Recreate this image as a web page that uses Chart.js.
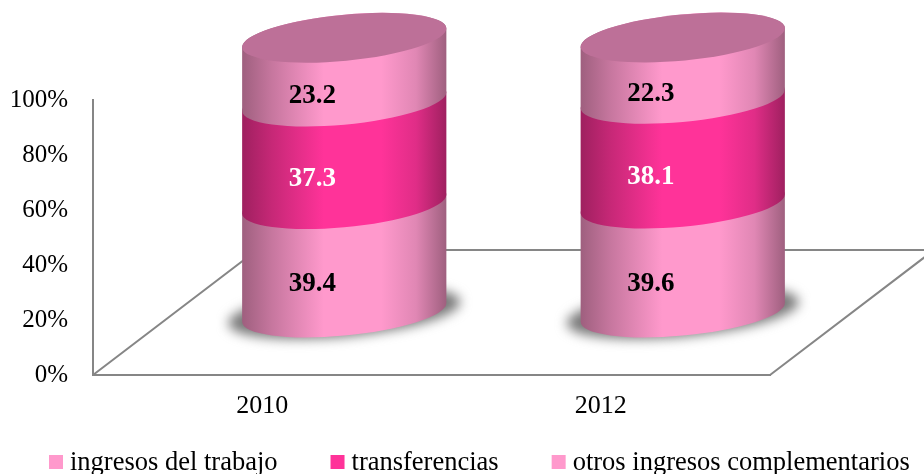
<!DOCTYPE html>
<html>
<head>
<meta charset="utf-8">
<script src="https://cdn.jsdelivr.net/npm/chart.js@4"></script>
<style>
html, body { margin: 0; padding: 0; width: 924px; height: 474px; overflow: hidden; background: #fff; }
canvas { display: block; }
</style>
</head>
<body>
<canvas id="chart" width="924" height="474"></canvas>
<script>
const years = ['2010', '2012']
const trabajo = [39.4, 39.6]
const transferencias = [37.3, 38.1]
const otros = [23.2, 22.3]
const seriesNames = ['ingresos del trabajo', 'transferencias', 'otros ingresos complementarios']
const seriesColors = ['#FF99CC', '#FF3399', '#FF99CC']
const labelColors = ['#000000', '#FFFFFF', '#000000']

const FONT = '"Liberation Serif", "Times New Roman", serif'
const LINE = '#868686'
// floor depth of the fake 3d box, cylinders stand half way in
const depthX = 164
const depthY = 125
const capB = 23
const tilt = -5.5 * Math.PI / 180

function shade(hex, k) {
    const n = parseInt(hex.slice(1), 16)
    const r = Math.round((n >> 16 & 255) * k)
    const g = Math.round((n >> 8 & 255) * k)
    const b = Math.round((n & 255) * k)
    return `rgb(${r},${g},${b})`
}

const cylinders = {
    id: 'cylinders',
    beforeDatasetsDraw(chart) {
        const ctx = chart.ctx
        const { left, right, bottom } = chart.chartArea
        ctx.save()
        ctx.strokeStyle = LINE
        ctx.lineWidth = 2
        ctx.beginPath()
        ctx.moveTo(left, bottom)
        ctx.lineTo(left + depthX, bottom - depthY)
        ctx.lineTo(right + depthX, bottom - depthY)
        ctx.lineTo(right, bottom)
        ctx.stroke()
        // base shadows
        ctx.filter = 'blur(6px)'
        ctx.fillStyle = '#787878'
        chart.getDatasetMeta(0).data.forEach(el => {
            ctx.beginPath()
            ctx.ellipse(el.x + depthX / 2, el.base - depthY / 2, el.width / 2 + 14, capB + 1, tilt, 0, Math.PI * 2)
            ctx.fill()
        })
        ctx.restore()
    },
    beforeDatasetDraw() {
        return false
    },
    afterDatasetsDraw(chart) {
        const ctx = chart.ctx
        const t0 = Math.atan2(capB * Math.sin(-tilt), chart.getDatasetMeta(0).data[0].width / 2 * Math.cos(tilt))
        ctx.save()
        chart.data.datasets.forEach((ds, i) => {
            chart.getDatasetMeta(i).data.forEach(el => {
                const cx = el.x + depthX / 2
                const a = el.width / 2
                const grad = ctx.createLinearGradient(cx - a, 0, cx + a, 0)
                grad.addColorStop(0, shade(ds.backgroundColor, 0.62))
                grad.addColorStop(0.15, shade(ds.backgroundColor, 0.78))
                grad.addColorStop(0.4, shade(ds.backgroundColor, 1))
                grad.addColorStop(0.68, shade(ds.backgroundColor, 1))
                grad.addColorStop(0.85, shade(ds.backgroundColor, 0.88))
                grad.addColorStop(1, shade(ds.backgroundColor, 0.62))
                ctx.fillStyle = grad
                ctx.beginPath()
                ctx.ellipse(cx, el.base - depthY / 2, a, capB, tilt, t0, t0 + Math.PI)
                ctx.ellipse(cx, el.y - depthY / 2, a, capB, tilt, t0 + Math.PI, t0 + Math.PI * 2)
                ctx.closePath()
                ctx.fill()
            })
        })
        // top caps
        const last = chart.data.datasets.length - 1
        chart.getDatasetMeta(last).data.forEach(el => {
            ctx.fillStyle = '#BD7098'
            ctx.beginPath()
            ctx.ellipse(el.x + depthX / 2, el.y - depthY / 2, el.width / 2, capB, tilt, 0, Math.PI * 2)
            ctx.fill()
        })
        // value labels
        ctx.font = 'bold 27px ' + FONT
        ctx.textAlign = 'center'
        ctx.textBaseline = 'middle'
        chart.data.datasets.forEach((ds, i) => {
            ctx.fillStyle = labelColors[i]
            chart.getDatasetMeta(i).data.forEach((el, j) => {
                const mid = (el.y + el.base) / 2 - depthY / 2 + capB + 3
                ctx.fillText(ds.data[j].toFixed(1), el.x + 50, mid)
            })
        })
        ctx.restore()
    },
    // chart.js keeps half a font size between box and text, the original is tighter
    afterDraw(chart) {
        const ctx = chart.ctx
        ctx.save()
        ctx.font = '26.5px ' + FONT
        ctx.textBaseline = 'alphabetic'
        ctx.textAlign = 'left'
        const box = 14, gap = 7, itemGap = 53
        const widths = seriesNames.map(s => ctx.measureText(s).width)
        let x = 49
        seriesNames.forEach((name, i) => {
            ctx.fillStyle = seriesColors[i]
            ctx.fillRect(x, 455, box, box)
            ctx.fillStyle = '#000'
            ctx.fillText(name, x + box + gap, 470)
            x += box + gap + widths[i] + itemGap
        })
        ctx.restore()
    }
}

new Chart(document.getElementById('chart'), {
    type: 'bar',
    data: {
        labels: years,
        datasets: [trabajo, transferencias, otros].map((values, i) => ({
            label: seriesNames[i],
            data: values,
            backgroundColor: seriesColors[i],
            barPercentage: 0.606,
            categoryPercentage: 1
        }))
    },
    options: {
        responsive: false,
        animation: false,
        layout: { padding: { top: 100, right: 154 } },
        plugins: {
            tooltip: { enabled: false },
            legend: { display: false }
        },
        scales: {
            x: {
                stacked: true,
                grid: { display: false, drawTicks: false },
                border: { color: LINE, width: 2 },
                ticks: { color: '#000', font: { family: FONT, size: 26 }, padding: 16, maxRotation: 0 },
                afterFit: s => { s.height = 99 }
            },
            y: {
                stacked: true,
                min: 0,
                max: 100,
                grid: { display: false, drawTicks: false },
                border: { color: LINE, width: 2 },
                ticks: { color: '#000', stepSize: 20, font: { family: FONT, size: 25 }, padding: 25, callback: v => v + '%' },
                afterFit: s => { s.width = 93 }
            }
        }
    },
    plugins: [cylinders]
})
</script>
</body>
</html>
